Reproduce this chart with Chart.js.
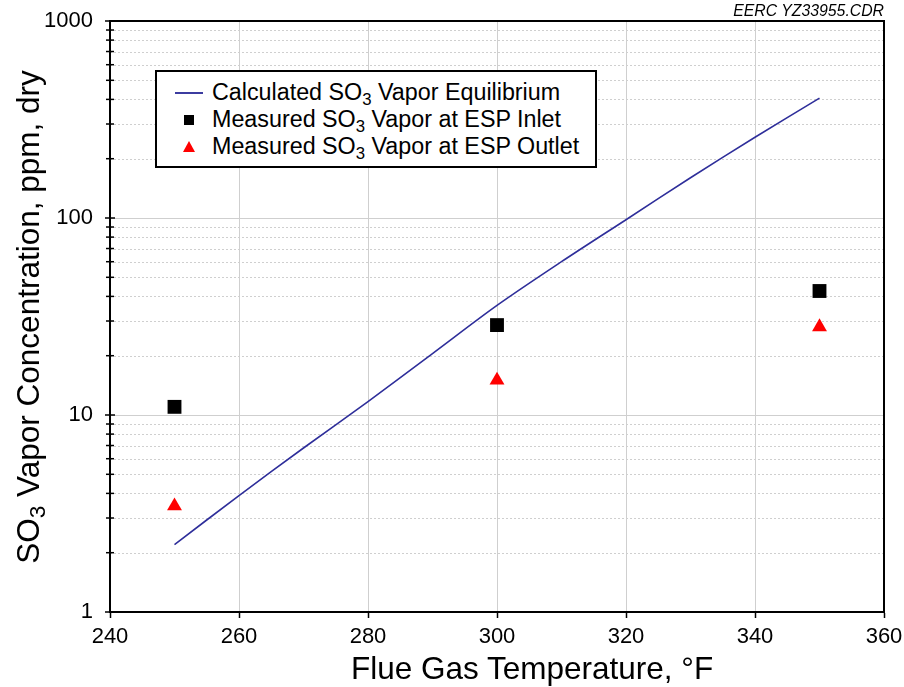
<!DOCTYPE html>
<html>
<head>
<meta charset="utf-8">
<script src="https://cdn.jsdelivr.net/npm/chart.js@4"></script>
<style>
body { margin: 0; background: #fff; font-family: "Liberation Sans", Arial, sans-serif; }
#wrap { position: relative; width: 904px; height: 687px; }
#chart { position: absolute; left: 0; top: 0; }
sub { font-size: 0.72em; vertical-align: -0.28em; line-height: 0; }
#ytitle { position: absolute; width: 640px; left: -292px; top: 298px; text-align: center;
  font-size: 31.5px; line-height: 38px; transform: rotate(-90deg); color: #000; }
#xtitle { position: absolute; left: 351px; top: 649px; font-size: 31.5px; line-height: 38px; color: #000; white-space: nowrap; }
#stamp { position: absolute; right: 20px; top: 2px; font-size: 15.8px; font-style: italic; color: #000; }
#legend { position: absolute; left: 155px; top: 70px; width: 438px; height: 87px;
  border: 2px solid #000; background: #fff; padding-top: 7px; box-sizing: content-box; }
#legend .row { position: relative; height: 27px; line-height: 27px; font-size: 23.3px; padding-left: 55px; color: #000; white-space: nowrap; }
#legend .sym { position: absolute; left: 18px; top: 0; width: 28px; height: 27px; }
.ln { position: absolute; left: 0; top: 13px; width: 28px; height: 2px; background: #3c3ca0; }
.sq { position: absolute; left: 9px; top: 9px; width: 10px; height: 10px; background: #000; }
.tri { position: absolute; left: 8px; top: 8px; width: 0; height: 0;
  border-left: 6px solid transparent; border-right: 6px solid transparent; border-bottom: 11px solid #f00; }
</style>
</head>
<body>
<div id="wrap">
  <canvas id="chart" width="904" height="687"></canvas>
  <div id="ytitle">SO<sub>3</sub> Vapor Concentration, ppm, dry</div>
  <div id="xtitle">Flue Gas Temperature, °F</div>
  <div id="stamp">EERC YZ33955.CDR</div>
  <div id="legend">
    <div class="row"><span class="sym"><i class="ln"></i></span>Calculated SO<sub>3</sub> Vapor Equilibrium</div>
    <div class="row"><span class="sym"><i class="sq"></i></span>Measured SO<sub>3</sub> Vapor at ESP Inlet</div>
    <div class="row"><span class="sym"><i class="tri"></i></span>Measured SO<sub>3</sub> Vapor at ESP Outlet</div>
  </div>
</div>
<script>
// calculated equilibrium curve
const eqTemps = [250, 260, 270, 280, 290, 300, 310, 320, 330, 340, 350];
const eqValues = [2.2, 3.9, 6.8, 11.7, 20.5, 36, 60, 98, 160, 257, 406];

// measured points
const measTemps = [250, 300, 350];
const inletValues = [11, 28.6, 42.6];
const outletValues = [3.45, 15, 28];

const xTicks = [240, 260, 280, 300, 320, 340, 360];
const yTickLabels = [1, 10, 100, 1000];

const toPts = (xs, ys) => xs.map((x, i) => ({ x: x, y: ys[i] }));

const yAllTicks = [];
for (let d = 0; d < yTickLabels.length - 1; d++) {
    for (let k = 1; k < 10; k++) yAllTicks.push(k * yTickLabels[d]);
}
yAllTicks.push(yTickLabels[yTickLabels.length - 1]);

const isMajor = v => yTickLabels.includes(v);

// minor dotted grid + frame
const framePlugin = {
    id: 'frame',
    beforeDatasetsDraw(chart) {
        const { ctx, chartArea: a, scales: { y } } = chart;
        ctx.save();
        ctx.strokeStyle = '#cfcfcf';
        ctx.lineWidth = 1;
        ctx.setLineDash([2, 2]);
        yAllTicks.forEach(v => {
            if (isMajor(v)) return;
            const py = Math.round(y.getPixelForValue(v)) + 0.5;
            ctx.beginPath();
            ctx.moveTo(a.left, py);
            ctx.lineTo(a.right, py);
            ctx.stroke();
        });
        ctx.setLineDash([]);
        // small ticks across the left axis
        ctx.strokeStyle = '#000';
        ctx.lineWidth = 1.5;
        yAllTicks.forEach(v => {
            const py = y.getPixelForValue(v);
            const len = isMajor(v) ? 5 : 4;
            ctx.beginPath();
            ctx.moveTo(a.left - len, py);
            ctx.lineTo(a.left + len, py);
            ctx.stroke();
        });
        ctx.restore();
    },
    afterDraw(chart) {
        const { ctx, chartArea: a } = chart;
        ctx.save();
        ctx.strokeStyle = '#000';
        ctx.lineWidth = 2;
        ctx.strokeRect(a.left, a.top, a.right - a.left, a.bottom - a.top);
        ctx.restore();
    }
};

new Chart(document.getElementById('chart'), {
    type: 'scatter',
    data: {
        datasets: [
            {
                label: 'Calculated SO3 Vapor Equilibrium',
                data: toPts(eqTemps, eqValues),
                showLine: true,
                borderColor: '#2e2e9a',
                borderWidth: 1.6,
                pointRadius: 0,
                tension: 0.3
            },
            {
                label: 'Measured SO3 Vapor at ESP Inlet',
                data: toPts(measTemps, inletValues),
                pointStyle: 'rect',
                pointRadius: 9.8,
                backgroundColor: '#000',
                borderColor: '#000',
                borderWidth: 0
            },
            {
                label: 'Measured SO3 Vapor at ESP Outlet',
                data: toPts(measTemps, outletValues),
                pointStyle: 'triangle',
                pointRadius: 8.6,
                backgroundColor: '#f00',
                borderColor: '#f00',
                borderWidth: 0
            }
        ]
    },
    options: {
        responsive: false,
        animation: false,
        layout: { padding: { left: 0, right: 20, top: 21, bottom: 0 } },
        plugins: { legend: { display: false }, tooltip: { enabled: false } },
        scales: {
            x: {
                type: 'linear',
                min: 240,
                max: 360,
                afterBuildTicks: s => { s.ticks = xTicks.map(v => ({ value: v })); },
                afterFit: s => { s.height = 75; s.paddingLeft = 0; s.paddingRight = 0; },
                ticks: { color: '#000', font: { size: 22, family: 'Liberation Sans' }, padding: 6 },
                grid: { color: '#cfcfcf', lineWidth: 1, tickLength: 6, tickColor: '#000', tickWidth: 1.5 },
                border: { color: '#000', width: 2 }
            },
            y: {
                type: 'logarithmic',
                min: 1,
                max: 1000,
                afterBuildTicks: s => { s.ticks = yAllTicks.map(v => ({ value: v, major: isMajor(v) })); },
                afterFit: s => { s.width = 110; s.paddingTop = 0; s.paddingBottom = 0; },
                ticks: {
                    color: '#000',
                    font: { size: 22, family: 'Liberation Sans' },
                    padding: 12,
                    autoSkip: false,
                    callback: v => isMajor(v) ? String(v) : ''
                },
                grid: {
                    color: c => (c.tick && isMajor(c.tick.value)) ? '#cfcfcf' : 'rgba(0,0,0,0)',
                    lineWidth: 1,
                    drawTicks: true,
                    tickLength: 5,
                    tickColor: 'rgba(0,0,0,0)'
                },
                border: { color: '#000', width: 2 }
            }
        }
    },
    plugins: [framePlugin]
});
</script>
</body>
</html>
